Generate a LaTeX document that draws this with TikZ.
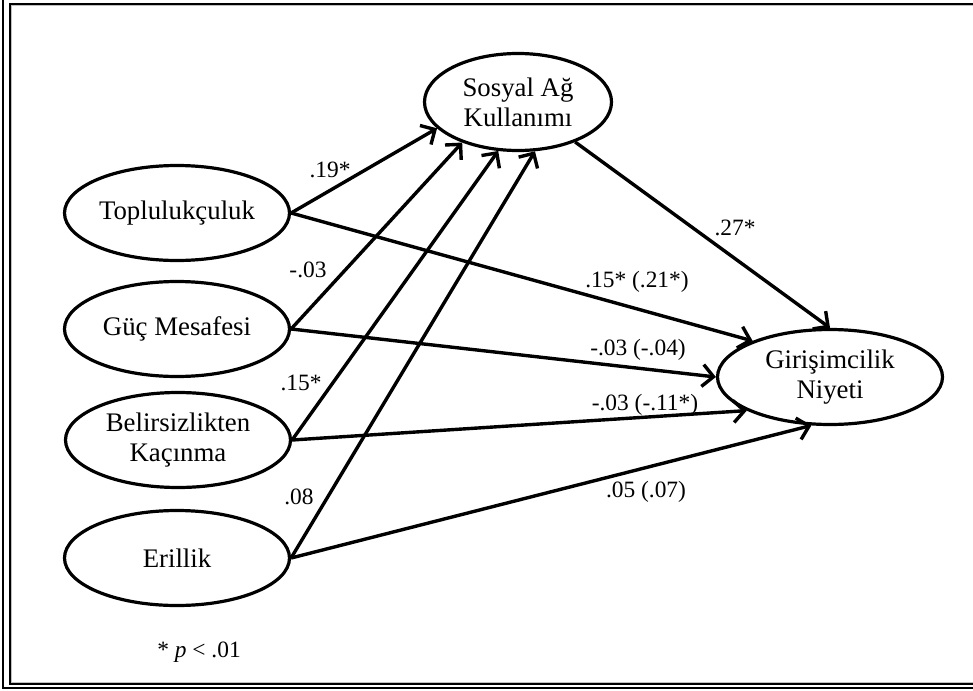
\documentclass[tikz,border=0pt]{standalone}
\usepackage{fontspec}
\setmainfont{Liberation Serif}
\usetikzlibrary{shapes.geometric,arrows.meta}
\begin{document}
\begin{tikzpicture}[x=0.5pt,y=-0.5pt,
 ell/.style={ellipse,draw,line width=1.6pt,minimum width=112.5pt,minimum height=47.5pt,inner sep=0pt,align=center,font=\fontsize{13.4}{15}\selectfont},
 lab/.style={font=\fontsize{11.7}{13}\selectfont,inner sep=0pt},
 arr/.style={line width=1.7pt,-{Straight Barb[length=5.5pt,width=11pt,line width=1.7pt]}},
 frameline/.style={line width=1pt}]
\useasboundingbox (0,0) rectangle (973,690);
% frame
\draw[frameline,gray!50,line width=1.4pt] (973,4.5) -- (10.5,4.5) -- (10.5,683.5) -- (973,683.5);
\draw[frameline] (973,4) -- (10,4) -- (10,684) -- (973,684);
\draw[line width=1.2pt] (3,0) -- (3,688) -- (973,688);
% nodes
\node[ell] (top) at (177,213) {Toplulukçuluk};
\node[ell] (guc) at (177,329) {Güç Mesafesi};
\node[ell] (bel) at (178,440) {Belirsizlikten\\Kaçınma};
\node[ell] (eri) at (177,558) {Erillik};
\node[ell,minimum width=93.5pt,minimum height=48.5pt] (sos) at (518,102) {Sosyal Ağ\\Kullanımı};
\node[ell] (gir) at (830,377) {Girişimcilik\\Niyeti};
% arrows
\draw[arr] (top.east) -- (sos.198);
\draw[arr] (guc.east) -- (sos.216);
\draw[arr] (bel.east) -- (sos.248);
\draw[arr] (eri.east) -- (sos.289);
\draw[arr] (sos.325) -- (gir.north);
\draw[arr] (top.east) -- (gir.155);
\draw[arr] (guc.east) -- (gir.west);
\draw[arr] (bel.east) -- (gir.202);
\draw[arr] (eri.east) -- (gir.249);
% labels
\node[lab] (l1) at (330,170) {.19*};
\node[lab] (l2) at (308,270) {-.03};
\node[lab] (l3) at (301,383) {.15*};
\node[lab] (l4) at (299,497) {.08};
\node[lab] (l5) at (735,228) {.27*};
\node[lab] (l6) at (637,282) {.15* (.21*)};
\node[lab] (l7) at (638,350) {-.03 (-.04)};
\node[lab] (l8) at (645,405) {-.03 (-.11*)};
\node[lab] (l9) at (646,492) {.05 (.07)};
\node[lab] (note) at (199,652) {* \textit{p} < .01};
\end{tikzpicture}
\end{document}
